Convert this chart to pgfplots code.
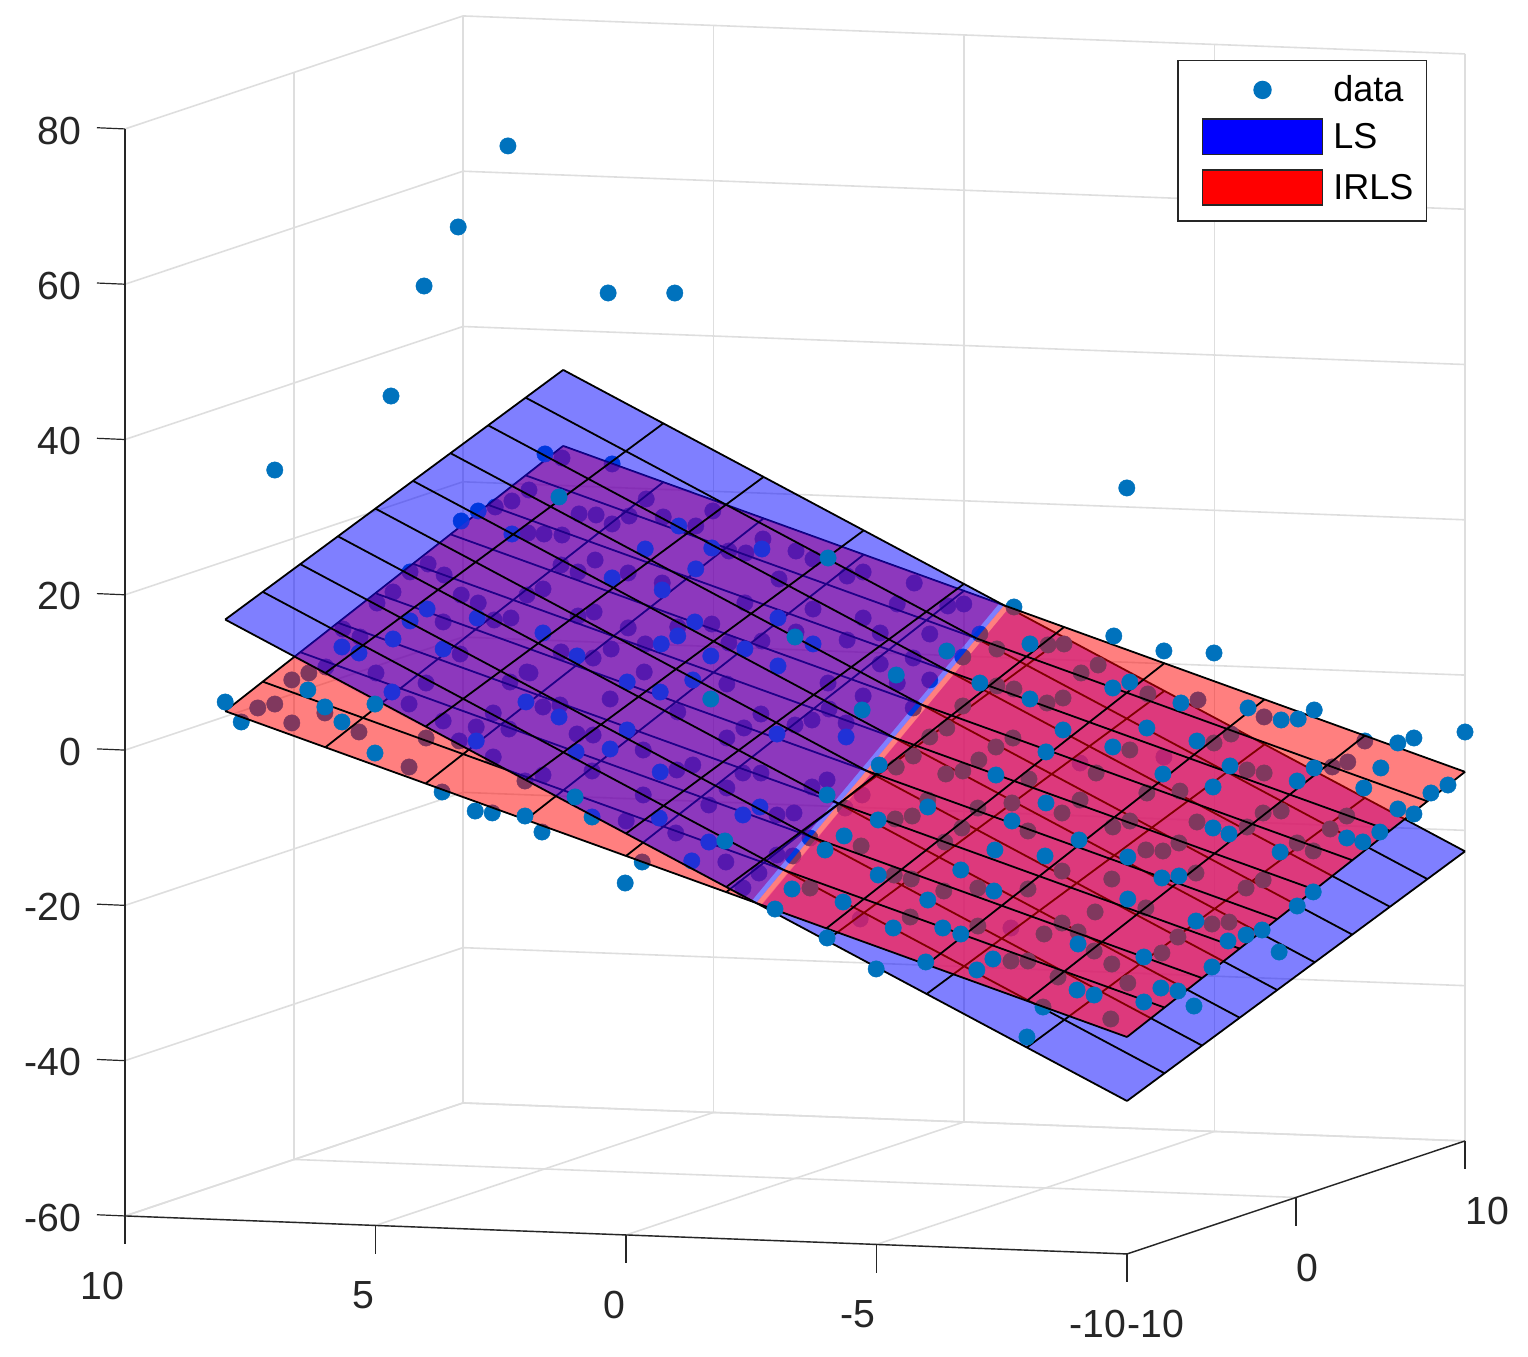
\documentclass[border=0pt]{standalone}
\usepackage{fontspec}
\setmainfont{Liberation Sans}
\usepackage{pgfplots}
\pgfplotsset{compat=1.18}
\definecolor{dataBlue}{RGB}{0,114,189}
\definecolor{axGray}{RGB}{38,38,38}
\definecolor{tintC}{RGB}{255,100,245}
\definecolor{tintP}{RGB}{221,12,178}
\pgfplotsset{
  pts/.style={forget plot, only marks, mark=*, mark size=2.05pt, mark options={solid, draw=dataBlue, fill=dataBlue, line width=0.1pt}},
  meshl/.style={forget plot, black, line width=0.45pt, mark=none},
  face/.style={forget plot, draw=none, fill=#1, fill opacity=0.5, mark=none},
}
\begin{document}
\begin{tikzpicture}
\path[use as bounding box] (0,0) rectangle (382pt,339.25pt);
\begin{axis}[
    at={(198.75pt,161.1pt)}, anchor=origin,
    x={(4.225pt,1.4125pt)}, y={(-12.525pt,0.475pt)}, z={(0pt,1.941pt)},
    xmin=-10, xmax=10, ymin=-10, ymax=10, zmin=-60, zmax=80,
    clip=false, clip mode=individual,
    grid=major,
    grid style={black!13, line width=0.4pt},
    axis line style={draw=none},
    major tick length=0pt,
    xtick={-10,0,10}, xticklabels={-10,0,10},
    ytick={-10,-5,0,5,10}, yticklabels={-10,-5,0,5,10},
    ztick={-60,-40,-20,0,20,40,60,80}, zticklabels={-60,-40,-20,0,20,40,60,80},
    tick label style={font=\fontsize{9.8}{11}\selectfont, text=axGray, inner sep=0pt},
    xticklabel style={anchor=west, yshift=-17.6pt},
    yticklabel style={anchor=east, yshift=-17.5pt},
    zticklabel style={anchor=east, xshift=-10.8pt, yshift=-0.4pt},
    legend style={at={(axis cs:10,-4.25,77.85)}, anchor=north west,
      draw=axGray, line width=0.4pt, fill=white,
      font=\fontsize{9}{11}\selectfont, legend cell align=left,
      inner xsep=3.25pt, inner ysep=3.75pt, row sep=3.5pt,
      /tikz/every odd column/.append style={column sep=2.5pt},
      nodes={inner sep=0pt, anchor=west}},
]
% axis lines and tick marks
\draw[axGray, line width=0.35pt] (axis cs:-10,10,-60) -- (axis cs:-10,10,80);
\draw[axGray, line width=0.35pt] (axis cs:-10,10,-60) -- (axis cs:-10,-10,-60) -- (axis cs:10,-10,-60);
\pgfplotsinvokeforeach{-10,-5,0,5,10}{ \draw[axGray, line width=0.3pt] (axis cs:-10,#1,-60) -- ++(0pt,-7.1pt); }
\pgfplotsinvokeforeach{-10,0,10}{ \draw[axGray, line width=0.3pt] (axis cs:#1,-10,-60) -- ++(0pt,-7.1pt); }
\pgfplotsinvokeforeach{-60,-40,-20,0,20,40,60,80}{ \draw[axGray, line width=0.3pt] (axis cs:-10,10,#1) -- ++(-7pt,0.3pt); }

% data below both planes
\addplot3[pts] coordinates {
(-10,2.61,33.12)(-10,3.95,25.45)(-10,3.63,24.11)(-10,4.31,24.34)(-10,4.65,21.67)(-10,4.97,20.17)(-10,3.29,21.61)(-10,2.95,20.67)
(-10,3.65,18.06)(-10,2.63,18.56)(-10,5.65,16.66)(-10,5.31,15.71)(-10,3.31,14.01)(-10,5.99,11.68)(-10,4.99,11.16)(-10,3.99,10.11)
(-10,4.33,7.32)(-10,3.65,5.31)(-10,2.99,4.69)(-10,2.65,6.58)(-10,3.33,2.81)(-10,6.33,10.83)(-10,6.67,9.85)(-10,7.01,6.66)
(-10,7.35,6.07)(-10,6.01,5.76)(-10,6.67,4.31)(-10,5.33,3.48)(-10,3.99,3.03)(-10,4.33,-0.79)(-10,7.68,4.19)(-10,3.67,-3.85)
(-10,2.67,-6.30)(-10,2.65,0.91)
(0,5.65,25.87)(0,5.31,27.37)(0,5.33,21.83)(0,5.01,21.77)(0,5.03,14.69)(0,5.35,13.84)(0,5.67,10.79)(0,5.35,3.92)(0,5.69,2.55)
(0,5.03,-0.51)(0,5.71,-3.51)(0,5.05,-16.62)(0,5.39,-10.13)(0,3.05,-19.99)(0,5.03,-9.27)(0,3.37,-14.78)(0,4.35,-3.82)(0,4.03,-3.88)
(0,4.69,-0.17)(0,3.69,0.85)(0,3.03,-5.56)(0,4.05,-8.51)(0,3.03,-11.35)(0,4.65,31.65)(0,3.65,31.13)(0,2.97,26.78)(0,4.31,24.53)
(0,3.97,24.48)(0,3.31,24.51)(0,3.65,23.40)(0,2.63,24.55)(0,1.98,23.55)(0,1.64,25.57)(0,4.65,21.73)(0,1.32,20.49)(0,0.98,20.32)
(0,0.64,22.20)(0,-0.02,20.81)(0,-0.36,19.87)(0,3.99,18.67)(0,4.67,17.87)(0,4.33,17.05)(0,3.33,17.17)(0,2.65,16.04)(0,0.32,17.13)
(0,1.00,13.88)(0,-0.36,13.43)(0,4.01,11.98)(0,4.33,11.38)(0,3.33,10.09)(0,1.66,11.00)(0,2.34,10.46)(0,-0.02,10.38)(0,4.67,6.67)
(0,4.03,6.04)(0,3.67,7.29)(0,2.99,8.11)(0,1.32,8.64)(0,0.66,9.06)(0,3.01,4.49)(0,1.36,3.35)(0,-0.66,3.97)(0,5.29,3.81)(0,2.34,-0.49)
(0,0.68,-0.35)(0,-0.34,-0.87)(0,1.02,-2.23)(0,1.36,-3.60)(0,0,-1.60)(0,2.36,-7.97)(0,2.04,-7.25)(0,1.04,-8.03)(0,0.68,-7.95)
(0,1.36,-10.04)(0,-0.34,-9.50)(0,-0.64,-8.52)(0,1.72,-12.32)(0,0.36,-13.28)(0,0.02,-12.93)(0,2.38,-16.09)(0,0.36,-18.43)(0,0.04,-18.48)
(0,1.38,-19.58)(0,0.72,-20.84)(0,1.04,-22.84)(0,-0.30,-16.08)(0,-2.38,17.27)(0,-1.36,18.44)(0,-1.04,17.84)(0,-3.37,14.81)(0,-3.05,14.48)
(0,-2.04,14.49)(0,-1.36,12.51)(0,-1.70,10.67)(0,-1.04,9.60)(0,-2.69,10.78)(0,-2.36,7.61)(0,-1.70,6.68)(0,-2.04,4.31)(0,-2.69,4.86)
(0,-1.36,2.47)(0,-2.36,1.17)(0,-0.68,0.63)(0,-1.02,-1.09)(0,-1.30,-26.26)(0,-4.31,-26.69)(0,-5.69,-5.10)(0,-1.00,-12.05)(0,-1.34,-10.28)
(10,-3.99,-12.02)
};

% lower faces: red left of the crossing, blue right of it
\addplot3[face=red] coordinates {(-10,-2.5,-16.41)(10,-0.7,6.95)(10,8,25.11)(-10,8,5.51)};
\addplot3[face=blue] coordinates {(-10,-10,-40.3)(10,-10,-22.7)(10,-0.9,6.42)(-10,-2.7,-16.94)};
\addplot3[forget plot, draw=none, fill=tintC, fill opacity=0.48, mark=none] coordinates {(10,-0.9,6.42)(10,-8.76,-18.8)(-10,-10,-32.06)(-10,-2.7,-16.8)};
\addplot3[meshl] coordinates {
(-10,0,-11.19)(10,0,8.41)

(-10,2,-7.01)(10,2,12.59)

(-10,4,-2.84)(10,4,16.76)

(-10,6,1.34)(10,6,20.94)

(-10,8,5.51)(10,8,25.11)

(-10,-2,-15.36)(-3.33,-2,-8.83)

(-10,-2.60,-16.61)(-10,8,5.51)

(-7.78,-2.40,-14.02)(-7.78,8,7.69)

(-5.56,-2.20,-11.42)(-5.56,8,9.87)

(-3.33,-2.00,-8.83)(-3.33,8,12.04)

(-1.11,-1.80,-6.24)(-1.11,8,14.22)

(1.11,-1.60,-3.64)(1.11,8,16.40)

(3.33,-1.40,-1.05)(3.33,8,18.58)

(5.56,-1.20,1.54)(5.56,8,20.75)

(7.78,-1.00,4.13)(7.78,8,22.93)

(10,-0.80,6.73)(10,8,25.11)
};
\addplot3[meshl] coordinates {
(-10,-10,-40.3)(10,-10,-22.7)

(-10,-8,-33.9)(10,-8,-16.3)

(-10,-6,-27.5)(10,-6,-9.9)

(-10,-4,-21.1)(10,-4,-3.5)

(-3.33,-2,-8.83)(10,-2,2.9)

(-10,-10,-40.30)(-10,-2.60,-16.61)

(-7.78,-10,-38.34)(-7.78,-2.40,-14.02)

(-5.56,-10,-36.39)(-5.56,-2.20,-11.42)

(-3.33,-10,-34.43)(-3.33,-2.00,-8.83)

(-1.11,-10,-32.48)(-1.11,-1.80,-6.24)

(1.11,-10,-30.52)(1.11,-1.60,-3.64)

(3.33,-10,-28.57)(3.33,-1.40,-1.05)

(5.56,-10,-26.61)(5.56,-1.20,1.54)

(7.78,-10,-24.66)(7.78,-1.00,4.13)

(10,-10,-22.70)(10,-0.80,6.73)
};

% data between the planes
\addplot3[pts] coordinates {
(-10,2.95,32.52)(-10,3.29,31.15)(-10,3.97,19.65)(-10,4.31,18.03)(-10,2.97,18.73)(-10,5.67,14.34)(-10,5.33,13.65)(-10,4.65,15.62)
(-10,3.65,14.58)(-10,4.67,8.79)(-10,2.99,2.89)
(0,4.99,32.09)(0,5.65,21.62)(0,5.03,9.02)(0,5.37,0.06)(0,4.71,-1.72)(0,3.35,-3.06)(0,4.37,-6.14)(0,3.69,-5.59)(0,4.05,-14.44)
(0,2.99,20.34)(0,1.66,20.79)(0,0.66,20.91)(0,2.32,23.46)(0,1.98,18.02)(0,3.65,16.45)(0,2.65,15.14)(0,2.00,11.18)(0,0.34,12.10)
(0,2.34,9.30)(0,-0.36,8.93)(0,4.35,6.23)(0,2.67,8.19)(0,1.00,7.95)(0,1.68,6.88)(0,0.34,5.92)(0,3.35,3.12)(0,2.04,3.70)(0,2.69,1.99)
(0,0.36,-2.85)(0,2.69,-8.31)(0,0.70,-12.33)(0,1.04,-13.44)(0,2.71,-14.24)(0,1.72,-17.09)(0,2.06,-19.61)(0,-1.02,-2.89)
(0,-4.37,14.67)(0,-3.69,11.02)(0,-4.03,9.18)(0,-5.05,9.95)(0,-5.37,10.15)(0,-3.35,7.98)(0,-6.05,7.61)(0,-5.71,6.50)(0,-4.03,4.42)
(0,-4.37,4.11)(0,-5.03,2.47)(0,-5.35,3.19)(0,-3.35,1.67)(0,-3.03,-1.24)(0,-2.69,-2.48)(0,-4.35,-2.21)(0,-4.01,-3.45)(0,-2.36,-5.01)
(0,-3.67,-5.21)(0,-2.02,-6.52)(0,-6.01,-6.31)(0,-3.01,-7.17)(0,-3.35,-6.70)(0,-4.67,-7.41)(0,-2.65,-10.61)(0,-3.65,-11.40)(0,-4.33,-10.58)
(0,-5.69,-9.87)(0,-5.33,-11.63)(0,-2.00,-13.21)(0,-2.34,-12.75)(0,-4.65,-14.11)(0,-3.33,-14.05)(0,-1.32,-16.86)(0,-2.99,-15.94)
(0,-1.98,-20.44)(0,-2.32,-20.86)(0,-3.65,-21.70)(0,-4.65,-21.58)(0,-0.30,-22.52)(0,-2.97,-22.25)(0,-2.30,-25.77)(0,-3.65,-26.60)
(0,-4.97,-27.30)(0,-4.31,-30.94)(0,-4.65,-30.85)(0,-4.95,-36.71)(0,-5.25,-32.77)(0,-5.33,-19.10)(0,-5.99,-24.21)(0,-5.33,-25.80)
(0,-5.65,-26.88)(0,-5.97,-29.25)
(10,-3.67,-3.98)(10,-4.67,-4.51)(10,-5.99,-6.37)(10,-8.00,-8.98)(10,-5.33,-8.73)(10,-4.99,-9.97)(10,-3.31,-11.28)(10,-7.66,-11.77)
(10,-7.35,-12.48)(10,-5.65,-13.29)(10,-5.99,-13.59)(10,-3.65,-16.74)(10,-4.31,-16.33)(10,-5.97,-18.75)(10,-6.33,-18.40)(10,-7.64,-18.73)
(10,-4.65,-20.23)(10,-3.31,-20.43)(10,-2.97,-21.28)(10,-5.65,-20.63)(10,-7.31,-20.48)(10,-6.65,-22.44)(10,-6.97,-23.39)(10,-4.29,-23.02)
(10,-3.63,-24.08)(10,-3.97,-24.13)(10,-4.63,-26.81)(10,-2.95,-27.99)(10,-5.63,-28.49)(10,-5.97,-27.38)(10,-3.63,-31.55)(10,-4.95,-33.30)
(10,-5.29,-32.96)(10,-4.27,-35.14)(10,-2.95,-38.94)(10,-3.95,-37.27)(10,-3.27,-41.30)(10,-2.93,-46.02)
};

% upper faces: blue left of the crossing, red right of it
\addplot3[face=blue] coordinates {(-10,-2.6,-16.61)(10,-0.8,6.73)(10,8,34.9)(-10,8,17.3)};
\addplot3[face=red] coordinates {(-10,-10,-32.06)(10,-10,-12.46)(10,-0.8,6.73)(-10,-2.6,-16.61)};
\addplot3[forget plot, draw=none, fill=tintP, fill opacity=0.15, mark=none] coordinates {(-6,8,9.43)(10,8,25.11)(10,-0.7,6.95)(-10,-2.5,-16.41)};
\addplot3[meshl] coordinates {
(-10,0,-8.3)(10,0,9.3)

(-10,2,-1.9)(10,2,15.7)

(-10,4,4.5)(10,4,22.1)

(-10,6,10.9)(10,6,28.5)

(-10,8,17.3)(10,8,34.9)

(-10,-2,-14.7)(-3.33,-2,-8.83)

(-10,-2.60,-16.61)(-10,8,17.30)

(-7.78,-2.40,-14.02)(-7.78,8,19.26)

(-5.56,-2.20,-11.42)(-5.56,8,21.21)

(-3.33,-2.00,-8.83)(-3.33,8,23.17)

(-1.11,-1.80,-6.24)(-1.11,8,25.12)

(1.11,-1.60,-3.64)(1.11,8,27.08)

(3.33,-1.40,-1.05)(3.33,8,29.03)

(5.56,-1.20,1.54)(5.56,8,30.99)

(7.78,-1.00,4.13)(7.78,8,32.94)

(10,-0.80,6.73)(10,8,34.90)
};
\addplot3[meshl] coordinates {
(-10,-10,-32.06)(10,-10,-12.46)

(-10,-8,-27.89)(10,-8,-8.29)

(-10,-6,-23.71)(10,-6,-4.11)

(-10,-4,-19.54)(10,-4,0.06)

(-3.33,-2,-8.83)(10,-2,4.24)

(-10,-10,-32.06)(-10,-2.60,-16.61)

(-7.78,-10,-29.88)(-7.78,-2.40,-14.02)

(-5.56,-10,-27.70)(-5.56,-2.20,-11.42)

(-3.33,-10,-25.53)(-3.33,-2.00,-8.83)

(-1.11,-10,-23.35)(-1.11,-1.80,-6.24)

(1.11,-10,-21.17)(1.11,-1.60,-3.64)

(3.33,-10,-18.99)(3.33,-1.40,-1.05)

(5.56,-10,-16.82)(5.56,-1.20,1.54)

(7.78,-10,-14.64)(7.78,-1.00,4.13)

(10,-10,-12.46)(10,-0.80,6.73)
};

% data above both planes
\addplot3[pts] coordinates {
(-10,3.35,69.00)(-10,4.03,61.23)(-10,4.69,46.90)(-10,7.01,36.80)(-10,8.00,6.68)(-10,6.35,8.64)(-10,6.01,6.53)(-10,5.01,7.15)(-10,5.67,4.68)
(-10,5.01,0.84)(-10,3.01,-6.14)
(0,5.73,71.58)(0,3.73,53.13)(0,2.40,53.45)(0,5.39,-14.64)(0,4.39,-11.94)(0,3.39,-22.78)(0,4.71,26.62)(0,-0.66,20.07)(0,1.68,1.34)
(0,-0.64,-10.45)(0,1.40,-16.88)(0,-0.60,-17.55)(0,0.06,-22.73)(0,0.40,-25.40)(0,0,9.74)(0,-2.02,5.33)(0,-1.34,0.66)(0,-3.03,8.67)
(0,-4.69,9.99)(0,-3.69,4.71)(0,-4.69,2.90)(0,-5.35,-0.93)(0,-5.01,-3.84)(0,-1.68,-6.34)(0,-4.01,-7.06)(0,-2.65,-11.51)(0,-5.01,-10.41)
(0,-1.66,-13.42)(0,-4.33,-12.90)(0,-0.98,-15.65)(0,-3.99,-16.72)(0,-4.99,-17.25)(0,-1.66,-20.51)(0,-3.31,-19.46)(0,-3.97,-22.01)
(0,-2.65,-23.49)(0,-0.96,-24.16)(0,-1.96,-27.26)(0,-2.95,-27.02)(0,-3.31,-27.71)(0,-0.64,-28.87)(0,-2.61,-31.48)(0,-3.63,-32.26)
(0,-3.95,-30.77)(0,-1.62,-32.62)(0,-4.63,-40.65)(0,-5.67,-15.02)(0,-5.65,-28.42)(0,-5.63,-34.35)(0,-5.97,-34.91)
(10,-3.25,22.45)(10,-2.99,3.32)(10,-3.99,1.64)(10,-4.99,1.62)(10,-3.31,-2.53)(10,-2.97,-3.38)(10,-4.33,-4.98)(10,-5.67,-5.29)(10,-6.33,-6.68)
(10,-6.67,-6.47)(10,-6.99,-5.23)(10,-8.66,-9.07)(10,-8.98,-8.35)(10,-10.00,-7.33)(10,-3.65,-8.37)(10,-4.65,-9.80)(10,-2.97,-10.98)
(10,-6.99,-12.70)(10,-8.32,-12.37)(10,-5.31,-12.85)(10,-3.97,-14.22)(10,-6.65,-14.46)(10,-7.98,-15.04)(10,-9.66,-14.24)(10,-9.32,-15.35)
(10,-4.97,-15.64)(10,-8.66,-17.57)(10,-8.98,-18.14)(10,-4.97,-20.92)(10,-5.29,-21.62)(10,-8.30,-20.63)(10,-7.64,-21.56)(10,-7.96,-21.99)
(10,-6.31,-23.69)(10,-3.27,-25.08)(10,-6.97,-28.67)(10,-6.65,-30.56)(10,-3.95,-27.61)(10,-4.29,-27.27)(10,-3.27,-30.49)(10,-4.63,-32.99)
(10,-5.95,-33.82)(10,-5.63,-34.54)(10,-5.27,-35.40)(10,-6.29,-36.57)(10,-3.59,-37.88)(10,-4.95,-38.83)(10,-3.93,-41.79)(10,-4.27,-42.09)
(10,-3.59,-43.67)(10,-4.59,-43.95)
};

\addlegendimage{legend image code/.code={\path (0pt,0pt) (32.75pt,0pt); \fill[dataBlue] (17.75pt,0pt) circle (2.1pt);}}
\addlegendentry{\raisebox{-0.8pt}{data}}
\addlegendimage{legend image code/.code={\path (0pt,0pt); \draw[fill=blue, draw=axGray, line width=0.4pt] (2.75pt,-4.4pt) rectangle (32.75pt,4.4pt);}}
\addlegendentry{\raisebox{-1.2pt}{LS}}
\addlegendimage{legend image code/.code={\path (0pt,0pt); \draw[fill=red, draw=axGray, line width=0.4pt] (2.75pt,-4.4pt) rectangle (32.75pt,4.4pt);}}
\addlegendentry{\raisebox{-1.2pt}{IRLS}}
\end{axis}
\end{tikzpicture}
\end{document}
